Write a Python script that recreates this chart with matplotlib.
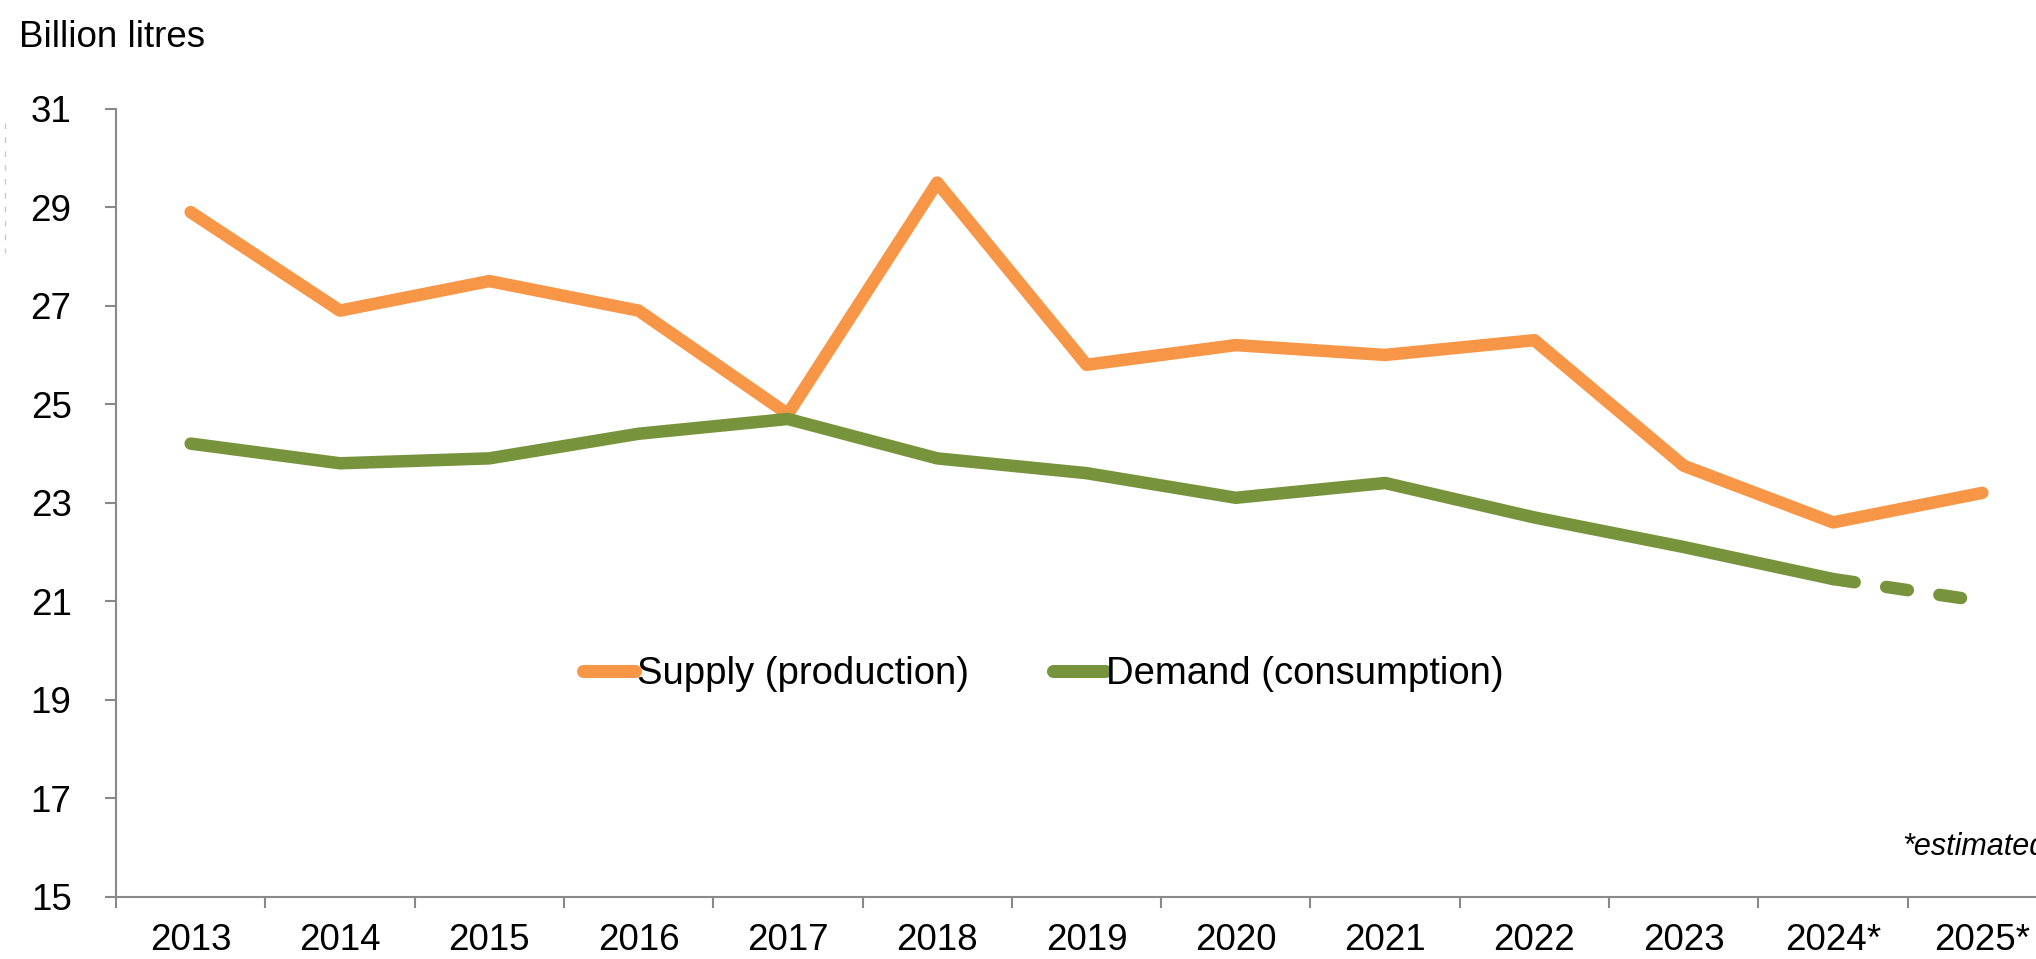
import matplotlib
matplotlib.use("Agg")
import matplotlib.pyplot as plt
from matplotlib.lines import Line2D
import numpy as np

plt.rcParams['font.family'] = ['Liberation Sans', 'DejaVu Sans']

years = ["2013", "2014", "2015", "2016", "2017", "2018", "2019",
         "2020", "2021", "2022", "2023", "2024*", "2025*"]
supply = [28.9, 26.9, 27.5, 26.9, 24.8, 29.5, 25.8, 26.2, 26.0, 26.3, 23.75, 22.6, 23.2]
demand = [24.2, 23.8, 23.9, 24.4, 24.7, 23.9, 23.6, 23.1, 23.4, 22.7, 22.1, 21.45, 21.0]
yticks = [15, 17, 19, 21, 23, 25, 27, 29, 31]

orange = "#F79646"
green = "#77933C"
axis_gray = "#898989"
fs = 26.5

W, H = 2036, 959
fig = plt.figure(figsize=(W / 100, H / 100), dpi=100)
left_px, right_px, bottom_px, top_px = 116, 2057, 896.7, 108.7
ax = fig.add_axes([left_px / W, (H - bottom_px) / H,
                   (right_px - left_px) / W, (bottom_px - top_px) / H])

x = np.arange(len(years))
lw = 9.0
ax.plot(x, supply, color=orange, lw=lw, solid_capstyle='round',
        solid_joinstyle='round', label="Supply (production)", zorder=3)
# demand: solid up to 2024*, dashed to 2025*
ax.plot(x[:-1], demand[:-1], color=green, lw=lw, solid_capstyle='round',
        solid_joinstyle='round', zorder=3)
ax.plot(x[-2:], demand[-2:], color=green, lw=lw, linestyle=(0, (1.75, 2.55)),
        dash_capstyle='round', zorder=3)

ax.set_xlim(-0.5, len(years) - 0.5)
ax.set_ylim(15, 31)
ax.set_yticks(yticks)
ax.set_xticks(x)
ax.set_xticklabels(years)
ax.set_xticks(np.arange(-0.5, len(years), 1.0), minor=True)

for s in ['top', 'right']:
    ax.spines[s].set_visible(False)
for s in ['left', 'bottom']:
    ax.spines[s].set_color(axis_gray)
    ax.spines[s].set_linewidth(1.5)

ax.tick_params(axis='x', which='major', length=0, pad=19, labelsize=fs)
ax.tick_params(axis='x', which='minor', length=8, width=1.5, color=axis_gray, direction='out')
ax.tick_params(axis='y', which='major', length=8, width=1.5, color=axis_gray,
               direction='out', pad=24, labelsize=fs)

handles = [Line2D([0], [0], color=orange, lw=9.4, solid_capstyle='round'),
           Line2D([0], [0], color=green, lw=9.4, solid_capstyle='round')]
ax.legend(handles, ["Supply (production)", "Demand (consumption)"],
          loc='center', bbox_to_anchor=(0.478, 0.282), ncol=2, frameon=False,
          fontsize=27.5, handlelength=1.35, handletextpad=0.05, columnspacing=2.2)

fig.text(19 / W, 1 - 47 / H, "Billion litres", fontsize=fs, ha='left', va='baseline')
fig.text(1902 / W, 1 - 855 / H, "*estimated", fontsize=22, style='italic',
         ha='left', va='baseline')

# faint dashed artifact at left edge
fig.add_artist(Line2D([5 / W, 5 / W], [1 - 123 / H, 1 - 253 / H],
                      color="#c8c8c8", lw=1, linestyle=(0, (4, 6))))

fig.savefig("out.png", dpi=100)
